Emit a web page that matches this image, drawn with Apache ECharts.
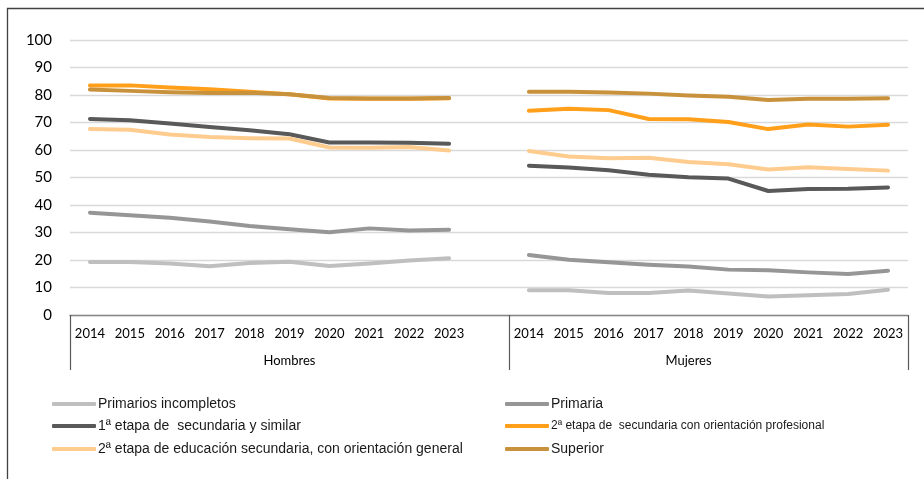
<!DOCTYPE html>
<html>
<head>
<meta charset="utf-8">
<script src="https://cdn.jsdelivr.net/npm/echarts@6/dist/echarts.min.js"></script>
<style>
  html, body { margin: 0; padding: 0; background: #fff; }
  #chart { width: 924px; height: 479px; }
</style>
</head>
<body>
<div id="chart"></div>
<script>
// Years per group; the empty slot separates Hombres from Mujeres
const years = ['2014', '2015', '2016', '2017', '2018', '2019', '2020', '2021', '2022', '2023'];
const groups = ['Hombres', 'Mujeres'];

// Values per education level (Hombres, then Mujeres)
const primariosIncompletosH = [19.3, 19.3, 18.7, 17.7, 18.9, 19.4, 17.8, 18.7, 19.8, 20.6];
const primariosIncompletosM = [9.0, 9.0, 8.0, 8.0, 8.9, 7.8, 6.7, 7.2, 7.6, 9.2];
const primariaH = [37.2, 36.3, 35.4, 34.0, 32.4, 31.2, 30.1, 31.5, 30.7, 31.0];
const primariaM = [21.8, 20.1, 19.2, 18.3, 17.6, 16.5, 16.3, 15.5, 14.9, 16.1];
const primeraEtapaH = [71.3, 70.8, 69.6, 68.4, 67.2, 65.7, 62.7, 62.7, 62.6, 62.3];
const primeraEtapaM = [54.3, 53.6, 52.6, 51.0, 50.1, 49.6, 45.1, 45.8, 45.9, 46.4];
const profesionalH = [83.5, 83.5, 82.7, 82.1, 81.2, 80.3, 78.7, 78.6, 78.6, 78.8];
const profesionalM = [74.3, 75.0, 74.5, 71.3, 71.2, 70.2, 67.6, 69.3, 68.5, 69.2];
const generalH = [67.6, 67.4, 65.6, 64.7, 64.3, 64.2, 60.9, 60.8, 61.1, 59.8];
const generalM = [59.6, 57.6, 57.0, 57.2, 55.6, 54.8, 52.9, 53.7, 53.1, 52.5];
const superiorH = [82.0, 81.5, 81.0, 80.7, 80.8, 80.3, 78.9, 78.7, 78.7, 78.9];
const superiorM = [81.2, 81.2, 80.9, 80.5, 79.8, 79.4, 78.2, 78.6, 78.6, 78.8];

const names = [
  'Primarios incompletos',
  'Primaria',
  '1ª etapa de  secundaria y similar',
  '2ª etapa de  secundaria con orientación profesional',
  '2ª etapa de educación secundaria, con orientación general',
  'Superior'
];
const colors = ['#bfbfbf', '#969696', '#595959', '#ff9f1a', '#ffcc8f', '#c8913c'];

const categories = [...years, '', ...years];
const join = (h, m) => [...h, null, ...m];
const seriesValues = [
  join(primariosIncompletosH, primariosIncompletosM),
  join(primariaH, primariaM),
  join(primeraEtapaH, primeraEtapaM),
  join(profesionalH, profesionalM),
  join(generalH, generalM),
  join(superiorH, superiorM)
];

const labelFont = 'Lato, "Liberation Sans", sans-serif';
const legendFont = '"Liberation Sans Narrow", "Liberation Sans", sans-serif';

// Legend placement: two columns, three rows
const legendSpots = [
  { left: 52, top: 397, size: 14 },
  { left: 505, top: 397, size: 14 },
  { left: 52, top: 419, size: 14 },
  { left: 505, top: 420, size: 12 },
  { left: 52, top: 442, size: 14 },
  { left: 505, top: 442, size: 14 }
];

const chart = echarts.init(document.getElementById('chart'), null, { renderer: 'canvas' });

chart.setOption({
  animation: false,
  backgroundColor: '#fff',
  color: colors,
  grid: { left: 70, right: 16, top: 40, bottom: 164, containLabel: false },
  graphic: [{
    type: 'rect',
    shape: { x: 7.5, y: 8.5, width: 1000, height: 1000 },
    style: { fill: 'none', stroke: '#404040', lineWidth: 1.3 },
    silent: true
  }],
  legend: names.map((n, i) => ({
    data: [n],
    left: legendSpots[i].left,
    top: legendSpots[i].top,
    orient: 'horizontal',
    icon: 'roundRect',
    itemWidth: 44,
    itemHeight: 4,
    itemGap: 0,
    padding: 0,
    selectedMode: false,
    textStyle: {
      fontFamily: legendFont,
      fontSize: legendSpots[i].size,
      color: '#1a1a1a',
      padding: [0, 0, 0, -3]
    }
  })),
  xAxis: [{
    type: 'category',
    data: categories,
    boundaryGap: true,
    position: 'bottom',
    axisLine: { show: true, lineStyle: { color: '#868686', width: 1.3 } },
    axisTick: { show: false },
    axisLabel: {
      interval: 0,
      margin: 12,
      fontFamily: labelFont,
      fontSize: 13,
      color: '#000'
    },
    splitLine: { show: false }
  }, {
    type: 'value',
    min: 0,
    max: 21,
    position: 'bottom',
    axisLine: { show: false },
    axisTick: {
      show: true,
      customValues: [0, 11, 21],
      length: 55,
      lineStyle: { color: '#595959', width: 1.2 }
    },
    axisLabel: {
      show: true,
      customValues: [5.5, 15.5],
      formatter: v => (v < 11 ? groups[0] : groups[1]),
      margin: 39,
      fontFamily: labelFont,
      fontSize: 13,
      color: '#000'
    },
    splitLine: { show: false }
  }],
  yAxis: {
    type: 'value',
    min: 0,
    max: 100,
    interval: 10,
    axisLine: { show: false },
    axisTick: { show: false },
    axisLabel: {
      margin: 18,
      fontFamily: labelFont,
      fontSize: 15,
      color: '#000'
    },
    splitLine: { lineStyle: { color: '#d9d9d9', width: 1.3 } }
  },
  series: names.map((n, i) => ({
    name: n,
    type: 'line',
    xAxisIndex: 0,
    data: seriesValues[i],
    symbol: 'none',
    connectNulls: false,
    lineStyle: { width: 4, color: colors[i], cap: 'round', join: 'round' },
    itemStyle: { color: colors[i] },
    z: 2 + i
  }))
});
</script>
</body>
</html>
